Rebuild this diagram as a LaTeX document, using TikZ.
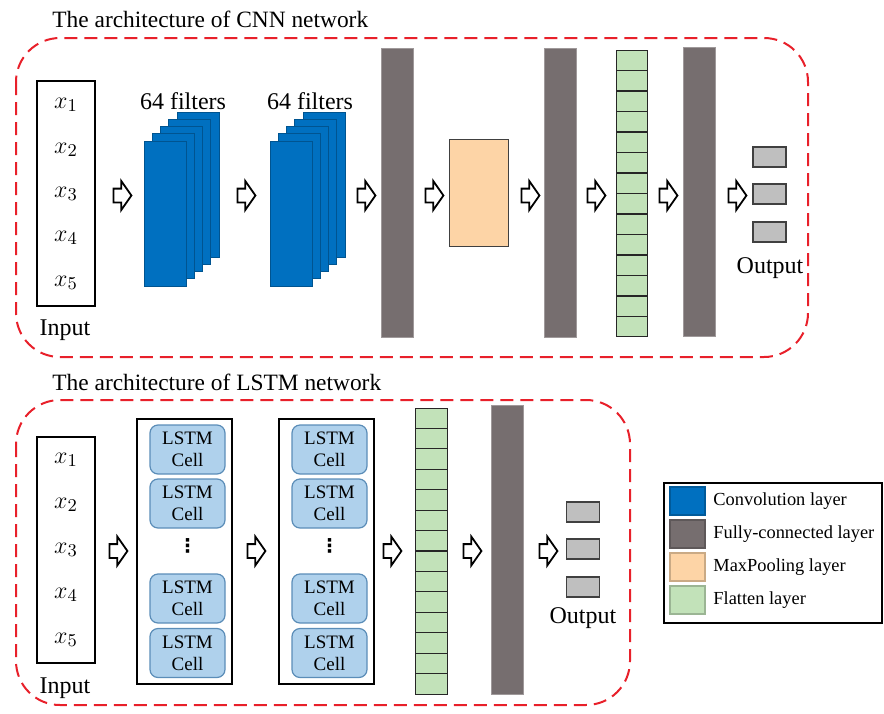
\documentclass[tikz,border=0pt]{standalone}
\usepackage{amsmath}
\usepackage{fontspec}
\setmainfont{Liberation Serif}
\newfontfamily\dotsfont{DejaVu Sans}
\usetikzlibrary{shapes.arrows}

\definecolor{convblue}{HTML}{0070C0}
\definecolor{fcgray}{HTML}{766E6F}
\definecolor{poolorange}{HTML}{FDD4A6}
\definecolor{flatgreen}{HTML}{C2E2B9}
\definecolor{cellblue}{HTML}{AFD1EC}
\definecolor{celledge}{HTML}{5B8DB8}
\definecolor{outgray}{HTML}{BFBFBF}
\definecolor{framered}{HTML}{E8202A}

\tikzset{
	frame/.style={draw=framered, line width=1pt, dash pattern=on 6.5pt off 3.5pt, rounded corners=22pt},
	lbl/.style={font=\fontsize{12}{14}\selectfont, inner sep=0pt},
	xin/.style={font=\fontsize{12.5}{14}\selectfont},
	inbox/.style={draw, line width=1pt, minimum width=29pt, inner sep=0pt},
	flow/.style={single arrow, draw, line width=0.9pt, fill=white, inner xsep=0pt, inner ysep=3pt,
		text height=0pt, text depth=0pt, minimum height=9pt, single arrow head extend=3.75pt,
		single arrow tip angle=110},
	conv/.style={fill=convblue, draw=convblue!75!black, line width=0.3pt, minimum width=21pt, minimum height=72.5pt, inner sep=0pt},
	fcbar/.style={fill=fcgray, draw=fcgray!70!white, line width=0.3pt, minimum width=16pt, minimum height=144.5pt, inner sep=0pt},
	pool/.style={fill=poolorange, draw=black!75, line width=0.5pt, minimum width=29.5pt, minimum height=53.5pt, inner sep=0pt},
	flat/.style={fill=flatgreen, draw=black!85, line width=0.5pt, minimum width=15.5pt, minimum height=10.2pt, inner sep=0pt},
	outbox/.style={fill=outgray, draw=black!75, line width=0.6pt, minimum width=16.5pt, minimum height=10pt, inner sep=0pt},
	lstmbox/.style={draw, line width=1pt, minimum width=47.5pt, minimum height=132.5pt, inner sep=0pt},
	cell/.style={fill=cellblue, draw=celledge, line width=0.6pt, rounded corners=4pt, minimum width=37.5pt,
		minimum height=24.5pt, inner sep=0pt, align=center, font=\fontsize{9.5}{11}\selectfont},
	swatch/.style={line width=0.6pt, minimum width=17.5pt, minimum height=14pt, inner sep=0pt},
}

\begin{document}
\begin{tikzpicture}[x=0.5pt,y=-0.5pt]
	\useasboundingbox (0,0) rectangle (884,713);

	\node[anchor=base west, font=\fontsize{11.7}{14}\selectfont, inner sep=0pt] at (52,27)(cnntitle){The architecture of CNN network};
	\draw[frame] (16,38) rectangle (808,357);

	\node[inbox, minimum height=112.5pt] at (66,193.5)(cnnin){};
	\foreach \k/\y in {1/105,2/150,3/194,4/238,5/283}
		\node[xin] at (66,\y)(cnnx\k){$x_{\k}$};
	\node[lbl, anchor=base] at (65,335)(cnninlbl){Input};

	\foreach \s/\cx in {1/165,2/291}{
		\foreach \i in {4,3,2,1,0}
			\node[conv] at (\cx+8.25*\i,213.5-7.25*\i)(conv\s\i){};
	}
	\node[lbl, anchor=base] at (183,109)(filt1){64 filters};
	\node[lbl, anchor=base] at (310,109)(filt2){64 filters};

	\node[fcbar] at (397,192.5)(fc1){};
	\node[pool] at (478.5,192.5)(pool){};
	\node[fcbar] at (560.5,192.5)(fc2){};
	\foreach \i in {0,...,13}
		\node[flat] at (631.5,60.25+20.5*\i)(cflat\i){};
	\node[fcbar] at (699,192)(fc3){};

	\foreach \i/\y in {1/157,2/194,3/232}
		\node[outbox] at (769.5,\y)(cout\i){};
	\node[lbl, anchor=base] at (770,273)(coutlbl){Output};

	\foreach \x [count=\i] in {120,244,364,432,528,594,666,735}
		\node[flow] at (\x,195.5)(carr\i){};

	\node[anchor=base west, font=\fontsize{11.7}{14}\selectfont, inner sep=0pt] at (52,390)(lstmtitle){The architecture of LSTM network};
	\draw[frame] (16,400) rectangle (630,705);

	\node[inbox, minimum height=113pt] at (66,550)(lstmin){};
	\foreach \k/\y in {1/460,2/505,3/550,4/595,5/640}
		\node[xin] at (66,\y)(lstmx\k){$x_{\k}$};
	\node[lbl, anchor=base] at (65,693)(lstminlbl){Input};

	\foreach \b/\cx in {1/184.5,2/326.5}{
		\node[lstmbox] at (\cx,551.5)(lbox\b){};
		\foreach \c/\y in {1/449.5,2/503.5,3/598.5,4/653}
			\node[cell] at (\cx+3,\y)(cell\b\c){LSTM\\Cell};
		\node[inner sep=0pt, font=\dotsfont\bfseries\fontsize{9.5}{10}\selectfont] at (\cx+3,546)(dots\b){⋮};
	}

	\foreach \i in {0,...,13}
		\node[flat, minimum width=16pt] at (431,418.2+20.43*\i)(lflat\i){};
	\node[fcbar] at (507.5,549.5)(fc4){};

	\foreach \i/\y in {1/512,2/549,3/587}
		\node[outbox] at (583,\y)(lout\i){};
	\node[lbl, anchor=base] at (583,623)(loutlbl){Output};

	\foreach \x [count=\i] in {116,254,390,470,546}
		\node[flow] at (\x,551)(larr\i){};

	\node[draw, line width=1pt, minimum width=109pt, minimum height=70pt, inner sep=0pt] at (773,553)(legend){};
	\foreach \c/\t [count=\i] in {convblue/Convolution layer,fcgray/Fully-connected layer,poolorange/MaxPooling layer,flatgreen/Flatten layer}{
		\node[swatch, fill=\c, draw=\c!80!black] at (687.5,468+33*\i)(key\i){};
		\node[anchor=west, inner sep=0pt, font=\fontsize{9.2}{11}\selectfont] at (713,468+33*\i)(keytxt\i){\t};
	}
\end{tikzpicture}
\end{document}
